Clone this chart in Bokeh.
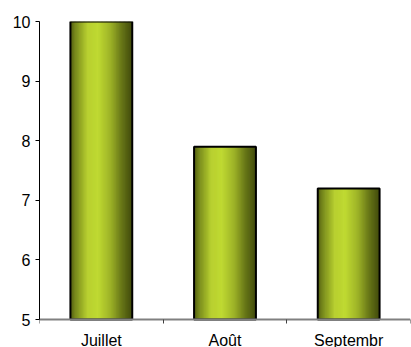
import numpy as np
from bokeh.plotting import figure
from bokeh.models import Range1d, FixedTicker, ColumnDataSource
from bokeh.embed import file_html
from bokeh.resources import INLINE

categories = ["Juillet", "Août", "Septembr"]
values = [10.0, 7.9, 7.2]
y_ticks = [5, 6, 7, 8, 9, 10]
y_min, y_max = 5, 10

# cylinder-like shading stops (position across bar, RGB)
stops_pos = [0.0, 0.08, 0.28, 0.45, 0.65, 0.85, 1.0]
stops_rgb = [(78, 90, 16), (118, 136, 28), (184, 208, 48), (192, 218, 50),
             (158, 180, 40), (100, 114, 22), (66, 76, 12)]

bar_width = 0.5
n_strips = 48

# layout: plotting area (value axis 5..10) spans 298 px, frame extends to the
# bottom of the canvas so that the category labels can be drawn inside it
W, H = 411, 347
top_px, axis_px = 21, 298
frame_px = H - top_px
y_lo = y_max - (y_max - y_min) * frame_px / axis_px

p = figure(width=W, height=H, x_range=Range1d(0, len(categories)),
           y_range=Range1d(y_lo, y_max), output_backend="svg",
           toolbar_location=None, min_border_left=39, min_border_right=1,
           min_border_top=top_px, min_border_bottom=0)
p.background_fill_color = "white"
p.border_fill_color = "white"
p.outline_line_color = None
p.xgrid.visible = False
p.ygrid.visible = False

centers = [i + 0.5 for i in range(len(categories))]


def shade(t):
    r = np.interp(t, stops_pos, [c[0] for c in stops_rgb])
    g = np.interp(t, stops_pos, [c[1] for c in stops_rgb])
    b = np.interp(t, stops_pos, [c[2] for c in stops_rgb])
    return "#%02x%02x%02x" % (int(r), int(g), int(b))


xs, tops, cols = [], [], []
sw = bar_width / n_strips
for c, v in zip(centers, values):
    for k in range(n_strips):
        t = (k + 0.5) / n_strips
        xs.append(c - bar_width / 2 + (k + 0.5) * sw)
        tops.append(v)
        cols.append(shade(t))

strips = ColumnDataSource(dict(x=xs, top=tops, color=cols))
p.vbar(x="x", top="top", bottom=y_min, width=sw * 1.6, fill_color="color",
       line_color=None, source=strips)

bars = ColumnDataSource(dict(x=centers, top=values))
p.vbar(x="x", top="top", bottom=y_min, width=bar_width, fill_color=None,
       line_color="black", line_width=2, source=bars)

# y axis
p.yaxis.bounds = (y_min, y_max)
p.yaxis.ticker = FixedTicker(ticks=y_ticks)
p.yaxis.axis_line_color = "black"
p.yaxis.axis_line_width = 1
p.yaxis.major_tick_out = 4
p.yaxis.major_tick_in = 0
p.yaxis.minor_tick_line_color = None
p.yaxis.major_tick_line_color = "black"
p.yaxis.major_label_text_font = "Liberation Sans"
p.yaxis.major_label_text_font_size = "16px"
p.yaxis.major_label_text_color = "black"
p.yaxis.major_label_standoff = 5

# x axis at value 5: labels at centers, ticks at category boundaries
p.xaxis.fixed_location = y_min
p.xaxis.ticker = FixedTicker(ticks=centers,
                             minor_ticks=list(range(len(categories) + 1)))
p.xaxis.major_label_overrides = {float(c): lab for c, lab in zip(centers, categories)}
p.xaxis.axis_line_color = "#808080"
p.xaxis.axis_line_width = 2
p.xaxis.major_tick_line_color = None
p.xaxis.major_tick_out = 0
p.xaxis.major_tick_in = 0
p.xaxis.minor_tick_line_color = "#404040"
p.xaxis.minor_tick_out = 4
p.xaxis.minor_tick_in = 0
p.xaxis.major_label_text_font = "Liberation Sans"
p.xaxis.major_label_text_font_size = "16px"
p.xaxis.major_label_text_color = "black"
p.xaxis.major_label_standoff = 8

open("out.html", "w").write(file_html(p, INLINE))
